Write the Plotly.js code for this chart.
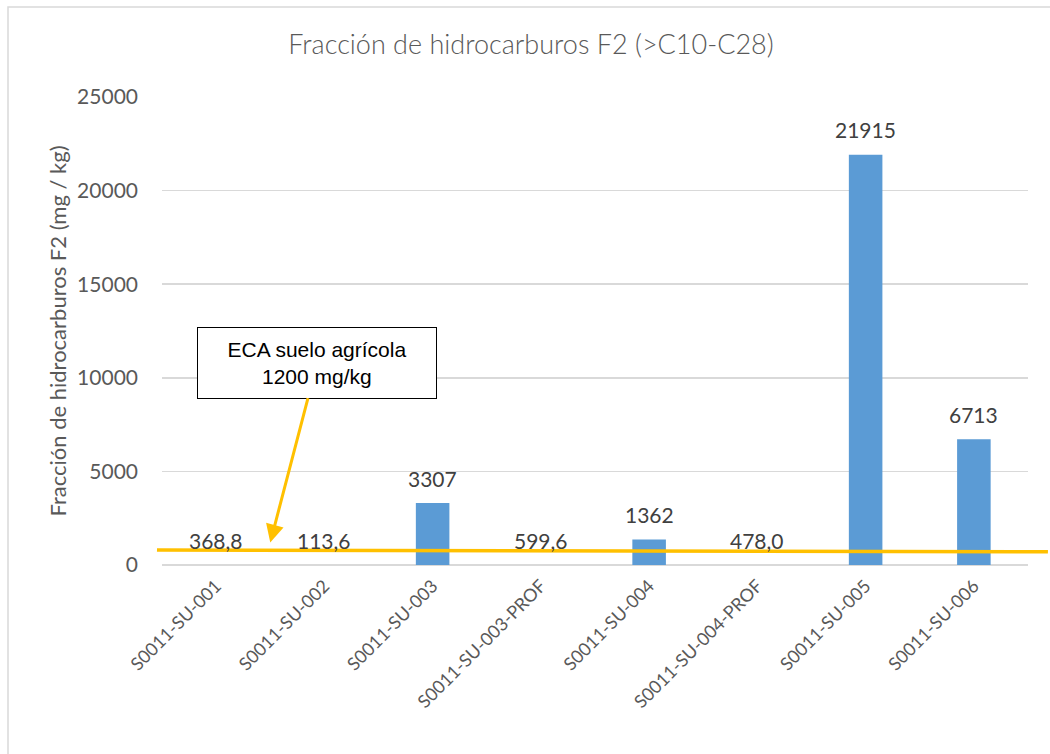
<!DOCTYPE html>
<html>
<head>
<meta charset="utf-8">
<script src="https://cdn.plot.ly/plotly-3.0.1.min.js"></script>
<style>html,body{margin:0;padding:0;background:#fff;}#chart{width:1050px;height:754px;}</style>
</head>
<body>
<div id="chart"></div>
<script>
// Categories (samples)
const categories = ['S0011-SU-001','S0011-SU-002','S0011-SU-003','S0011-SU-003-PROF','S0011-SU-004','S0011-SU-004-PROF','S0011-SU-005','S0011-SU-006'];
// Bar heights as drawn in the picture (the decimal values are shown only as labels, no visible bar)
const barValues = [0, 0, 3307, 0, 1362, 0, 21915, 6713];
// Data labels as printed
const labelText = ['368,8','113,6','3307','599,6','1362','478,0','21915','6713'];
// Y tick values
const yTicks = [0, 5000, 10000, 15000, 20000, 25000];
// Reference limit
const ecaLimit = 1200;

const font = 'Lato, "Open Sans", sans-serif';

const trace = {
  type: 'bar',
  x: categories,
  y: barValues,
  marker: {color: '#5B9BD5'},
  hoverinfo: 'skip'
};

const labelAnns = categories.map((c, i) => ({
  x: c, y: barValues[i], xref: 'x', yref: 'y',
  text: labelText[i], showarrow: false,
  yanchor: 'middle', yshift: 25,
  font: {family: font, size: 21, color: '#404040'}
}));

const ecaAnn = {
  x: 0.5, y: ecaLimit, xref: 'x', yref: 'y',
  ax: 47, ay: -180, axref: 'pixel', ayref: 'pixel',
  text: 'ECA suelo agrícola<br>1200 mg/kg',
  showarrow: true, arrowcolor: '#FFC000', arrowwidth: 3, arrowhead: 2, arrowsize: 1.2,
  standoff: 0, startstandoff: 0,
  bgcolor: '#ffffff', bordercolor: '#000000', borderwidth: 1, borderpad: 0,
  width: 238, height: 70, align: 'center',
  font: {family: 'Liberation Sans, Arial, sans-serif', size: 21, color: '#000000'}
};

const layout = {
  width: 1050, height: 754,
  margin: {l: 162, r: 22, t: 97, b: 189},
  paper_bgcolor: '#ffffff', plot_bgcolor: '#ffffff',
  showlegend: false,
  bargap: 0.69,
  title: {
    text: 'Fracción de hidrocarburos F2 (>C10-C28)',
    x: 531/1050, xanchor: 'center', xref: 'container',
    y: 1 - 45/754, yanchor: 'middle', yref: 'container',
    font: {family: font, size: 27, color: '#595959', weight: 300}
  },
  xaxis: {
    type: 'category',
    tickangle: -45,
    ticklabelstandoff: 6,
    tickfont: {family: font, size: 18, color: '#595959'},
    showgrid: false, zeroline: false, showline: false, ticks: ''
  },
  yaxis: {
    range: [0, 25000],
    tickvals: yTicks,
    tickformat: 'd',
    tickfont: {family: font, size: 21, color: '#595959'},
    ticklabelstandoff: 23,
    showgrid: true, gridcolor: '#d9d9d9', gridwidth: 1.5,
    zeroline: true, zerolinecolor: '#d9d9d9', zerolinewidth: 1.5,
    showline: false, ticks: '',
    title: {text: 'Fracción de hidrocarburos F2 (mg / kg)', standoff: 4,
            font: {family: font, size: 22, color: '#595959'}}
  },
  shapes: [
    {type: 'line', xref: 'paper', yref: 'y', x0: -0.0058, x1: 1.023, y0: 800, y1: 710,
     line: {color: '#FFC000', width: 3.5}},
    {type: 'rect', xref: 'paper', yref: 'paper', x0: (8-162)/866, x1: 1.1, y0: -0.5, y1: (565-7)/468,
     line: {color: '#d9d9d9', width: 1.5}, fillcolor: 'rgba(0,0,0,0)', layer: 'below'}
  ],
  annotations: labelAnns.concat([ecaAnn])
};

Plotly.newPlot('chart', [trace], layout, {displayModeBar: false, staticPlot: true});
</script>
</body>
</html>
